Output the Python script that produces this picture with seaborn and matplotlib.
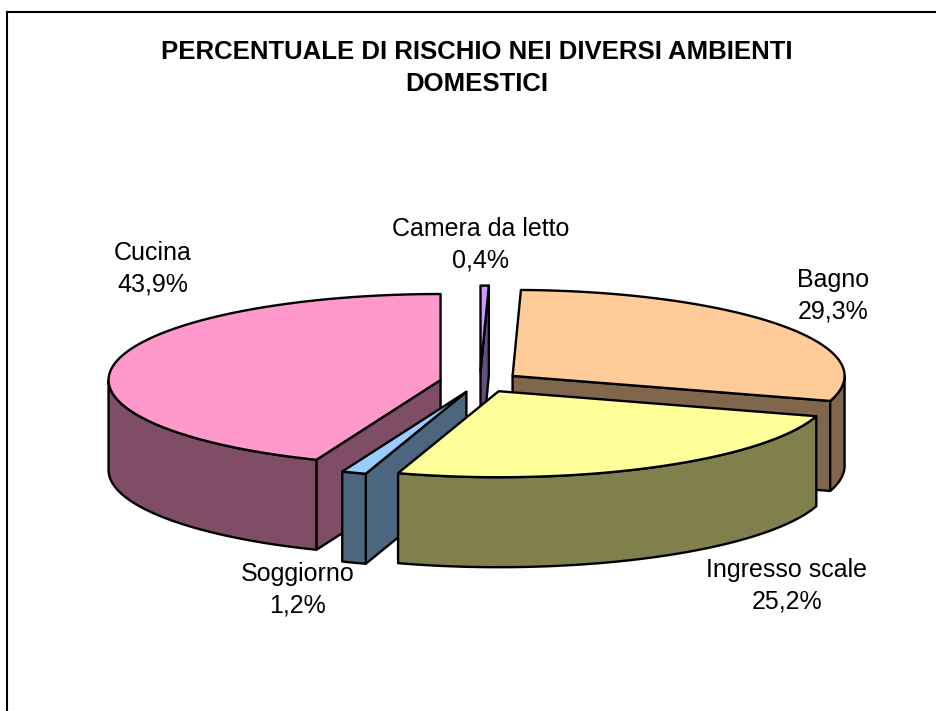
import numpy as np
import matplotlib
matplotlib.use("Agg")
import matplotlib.pyplot as plt
from matplotlib.patches import Polygon
import seaborn as sns

titolo = "PERCENTUALE DI RISCHIO NEI DIVERSI AMBIENTI\nDOMESTICI"
ambienti = ["Camera da letto", "Bagno", "Ingresso scale", "Soggiorno", "Cucina"]
percentuali = [0.4, 29.3, 25.2, 1.2, 43.9]
colori = ["#CC99FF", "#FFCC99", "#FFFF99", "#99CCFF", "#FF99CC"]

# layout of the 3d pie, in pixels
cx, cy = 480, 382
rx, ry = 332, 86
spessore = 90
esplosione = 0.121
ordine = [0, 1, 4, 3, 2]
pos_etichette = [(481, 245), (833, 296), (787, 586), (298, 590), (153, 269)]

sns.set_theme(style="white")
plt.rcParams["font.family"] = ["Liberation Sans", "DejaVu Sans"]
palette = sns.color_palette(colori)

fig = plt.figure(figsize=(9.36, 7.11), dpi=100)
ax = fig.add_axes([7 / 936, 0, 929 / 936, 699 / 711])
ax.set_xlim(7, 936)
ax.set_ylim(711, 12)
ax.set_xticks([])
ax.set_yticks([])
for lato in ["right", "bottom"]:
    ax.spines[lato].set_visible(False)
for lato in ["left", "top"]:
    ax.spines[lato].set_color("black")
    ax.spines[lato].set_linewidth(1.5)


def punto(x0, y0, ang):
    return x0 + rx * np.sin(ang), y0 - ry * np.cos(ang)


def faccia(punti, colore, z):
    ax.add_patch(Polygon(punti, closed=True, facecolor=colore, edgecolor="black",
                         linewidth=1.7, joinstyle="round", zorder=z))


bordi = np.radians(np.cumsum([0] + percentuali) / sum(percentuali) * 360)

for z, i in enumerate(ordine):
    a0, a1 = bordi[i], bordi[i + 1]
    mezzo = (a0 + a1) / 2
    x0 = cx + esplosione * rx * np.sin(mezzo)
    y0 = cy - esplosione * ry * np.cos(mezzo)
    scuro = tuple(c * 0.5 for c in palette[i])
    base = z * 10

    # radial walls, only those turned towards the viewer
    if np.cos(a0 - np.pi / 2) < -1e-9:
        px, py = punto(x0, y0, a0)
        faccia([(x0, y0), (px, py), (px, py + spessore), (x0, y0 + spessore)], scuro, base + 1)
    if np.cos(a1 + np.pi / 2) < -1e-9:
        px, py = punto(x0, y0, a1)
        faccia([(x0, y0), (px, py), (px, py + spessore), (x0, y0 + spessore)], scuro, base + 1)

    # outer wall, front half of the rim
    da, a = max(a0, np.pi / 2), min(a1, 3 * np.pi / 2)
    if a > da:
        t = np.linspace(da, a, 80)
        px, py = punto(x0, y0, t)
        bordo = list(zip(px, py)) + list(zip(px[::-1], py[::-1] + spessore))
        faccia(bordo, scuro, base + 2)

    # top
    t = np.linspace(a0, a1, 120)
    px, py = punto(x0, y0, t)
    faccia([(x0, y0)] + list(zip(px, py)), palette[i], base + 3)

for nome, valore, (x, y) in zip(ambienti, percentuali, pos_etichette):
    testo = f"{nome}\n{valore:.1f}%".replace(".", ",")
    ax.text(x, y, testo, ha="center", va="center", fontsize=18, color="black",
            linespacing=1.42, zorder=100)

ax.text(477, 68, titolo, ha="center", va="center", fontsize=18.5, fontweight="bold",
        color="black", linespacing=1.45, zorder=100)

fig.savefig("out.png", dpi=100)
